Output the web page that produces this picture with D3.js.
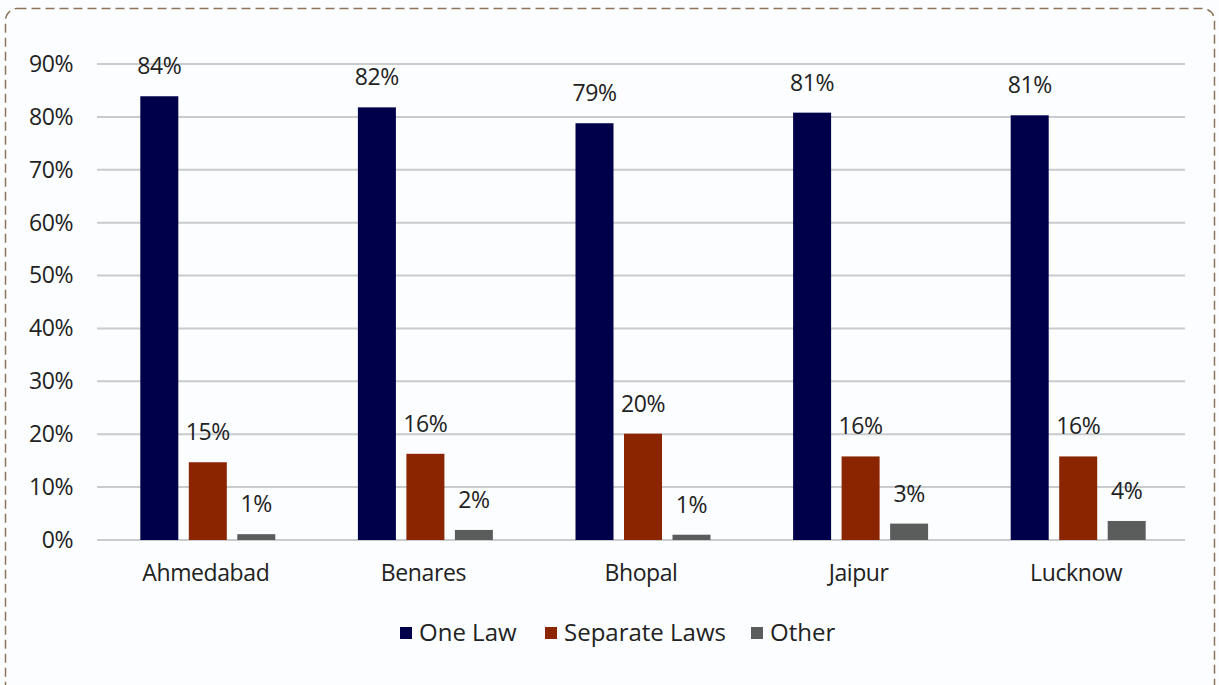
<!DOCTYPE html>
<html>
<head>
<meta charset="utf-8">
<script src="https://d3js.org/d3.v7.min.js"></script>
<style>
  html, body { margin: 0; padding: 0; background: #ffffff; }
  svg { display: block; }
  text { font-family: "Open Sans", "DejaVu Sans", sans-serif; fill: #222222; letter-spacing: -0.4px; }
</style>
</head>
<body>
<script>
// chart values
const cities = ["Ahmedabad", "Benares", "Bhopal", "Jaipur", "Lucknow"];
const seriesNames = ["One Law", "Separate Laws", "Other"];
const oneLaw = [0.839, 0.818, 0.788, 0.808, 0.803];
const separateLaws = [0.147, 0.163, 0.201, 0.158, 0.158];
const other = [0.011, 0.019, 0.010, 0.031, 0.036];
const labelsOneLaw = ["84%", "82%", "79%", "81%", "81%"];
const labelsSeparate = ["15%", "16%", "20%", "16%", "16%"];
const labelsOther = ["1%", "2%", "1%", "3%", "4%"];
const yTicks = [0, 0.1, 0.2, 0.3, 0.4, 0.5, 0.6, 0.7, 0.8, 0.9];
const colors = ["#00004a", "#8b2500", "#5b5d5d"];

function draw() {
    var width = 1219;
    var height = 685;
    var margin = {left: 97, right: 34, top: 64, bottom: 145};
    var fs = 23;

    const svg = d3.select("body").append("svg")
        .attr("width", width)
        .attr("height", height);

    // page background and dashed frame
    svg.append("rect")
        .attr("x", 0).attr("y", 0)
        .attr("width", width).attr("height", height)
        .attr("fill", "#fbfdfe");
    svg.append("rect")
        .attr("x", 5.5).attr("y", 8.5)
        .attr("width", 1209).attr("height", 700)
        .attr("rx", 12).attr("ry", 12)
        .attr("fill", "none")
        .attr("stroke", "#8e7559")
        .attr("stroke-width", 1.5)
        .attr("stroke-dasharray", "9,5");

    const x = d3.scaleBand()
        .domain(cities)
        .range([margin.left, width - margin.right])
        .paddingInner(0)
        .paddingOuter(0);
    const y = d3.scaleLinear()
        .domain([0, 0.9])
        .range([height - margin.bottom, margin.top]);

    const barW = 38;
    const step = 48.5;
    const p = (step - barW) / step;
    const inner = d3.scaleBand()
        .domain(seriesNames)
        .range([x.bandwidth() / 2 + 2 - step * 1.5, x.bandwidth() / 2 + 2 + step * 1.5])
        .paddingInner(p)
        .paddingOuter(p / 2);

    // gridlines
    svg.append("g")
        .selectAll("line")
        .data(yTicks)
        .join("line")
            .attr("x1", margin.left)
            .attr("x2", width - margin.right)
            .attr("y1", d => y(d))
            .attr("y2", d => y(d))
            .attr("stroke", "#c9cbcc")
            .attr("stroke-width", 2);

    // y axis labels
    const yAxis = d3.axisLeft(y)
        .tickValues(yTicks)
        .tickFormat(d3.format(".0%"))
        .tickSize(0)
        .tickPadding(24);
    svg.append("g")
        .attr("transform", `translate(${margin.left},0)`)
        .call(yAxis)
        .call(g => g.select(".domain").remove())
        .call(g => g.selectAll("text")
            .attr("font-size", fs)
            .attr("fill", "#222222")
            .attr("font-family", "'Open Sans', sans-serif"));

    // x axis labels
    const xAxis = d3.axisBottom(x).tickSize(0).tickPadding(25);
    svg.append("g")
        .attr("transform", `translate(0,${height - margin.bottom})`)
        .call(xAxis)
        .call(g => g.select(".domain").remove())
        .call(g => g.selectAll("text")
            .attr("font-size", fs)
            .attr("fill", "#222222")
            .attr("font-family", "'Open Sans', sans-serif"));

    const series = [oneLaw, separateLaws, other];
    const seriesLabels = [labelsOneLaw, labelsSeparate, labelsOther];
    const rows = [];
    cities.forEach(function(c, i) {
        seriesNames.forEach(function(s, j) {
            rows.push({city: c, name: s, value: series[j][i], label: seriesLabels[j][i], k: j});
        });
    });

    const bars = svg.append("g");
    bars.selectAll("rect")
        .data(rows)
        .join("rect")
            .attr("x", d => x(d.city) + inner(d.name))
            .attr("width", inner.bandwidth())
            .attr("y", d => y(d.value))
            .attr("height", d => y(0) - y(d.value))
            .attr("fill", d => colors[d.k]);

    bars.selectAll("text")
        .data(rows)
        .join("text")
            .attr("x", d => x(d.city) + inner(d.name) + inner.bandwidth() / 2)
            .attr("y", d => y(d.value) - 22)
            .attr("text-anchor", "middle")
            .attr("font-size", fs)
            .text(d => d.label);

    // legend
    const legendX = [400, 545, 751];
    const legend = svg.append("g")
        .selectAll("g")
        .data(seriesNames)
        .join("g")
            .attr("transform", (d, i) => `translate(${legendX[i]},627)`);
    legend.append("rect")
        .attr("width", 12).attr("height", 12)
        .attr("fill", (d, i) => colors[i]);
    legend.append("text")
        .attr("x", 19)
        .attr("y", 14)
        .attr("font-size", 24)
        .style("letter-spacing", "0px")
        .text(d => d);
}

draw();
</script>
</body>
</html>
